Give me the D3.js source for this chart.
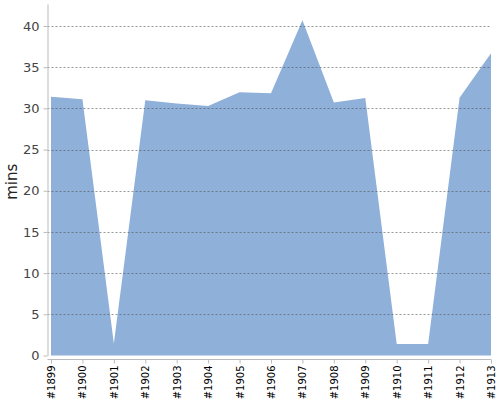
<!DOCTYPE html>
<html>
<head>
<meta charset="utf-8">
<script src="https://cdn.jsdelivr.net/npm/d3@7"></script>
<style>
  body { margin: 0; background: #fff; }
  svg { display: block; font-family: "DejaVu Sans", sans-serif; }
</style>
</head>
<body>
<div id="chart-container"></div>
<script>
"use strict";

const years = ["#1899", "#1900", "#1901", "#1902", "#1903", "#1904", "#1905", "#1906",
  "#1907", "#1908", "#1909", "#1910", "#1911", "#1912", "#1913"];
const mins = [31.4, 31.1, 1.45, 31.0, 30.6, 30.3, 31.95, 31.85,
  40.7, 30.7, 31.25, 1.4, 1.4, 31.3, 36.7];
const yTicks = [0, 5, 10, 15, 20, 25, 30, 35, 40];

const svgWidth = 500;
const svgHeight = 400;
const plotLeft = 51;
const plotRight = 491;
const plotTop = 4;
const plotBottom = 355.5;

const svg = d3.select("#chart-container")
  .append("svg")
  .attr("width", svgWidth)
  .attr("height", svgHeight)
;

const xScale = d3.scalePoint()
  .domain(years)
  .range([plotLeft, plotRight])
;
const yScale = d3.scaleLinear()
  .domain([0, 42.67])
  .range([plotBottom, plotTop])
;

// filled area
const area = d3.area()
  .x((d, i) => xScale(years[i]))
  .y0(yScale(0))
  .y1(d => yScale(d))
;
svg.append("path")
  .datum(mins)
  .attr("d", area)
  .attr("fill", "#8eb0d9")
;

// dotted grid lines, drawn over the area
svg.append("g")
  .selectAll("line")
  .data(yTicks.filter(t => t > 0))
  .enter()
  .append("line")
  .attr("x1", plotLeft - 3.5)
  .attr("x2", plotRight)
  .attr("y1", d => Math.round(yScale(d)) + 0.5)
  .attr("y2", d => Math.round(yScale(d)) + 0.5)
  .attr("stroke", "#555")
  .attr("stroke-opacity", 0.6)
  .attr("stroke-dasharray", "2,2")
;

// y axis
const yAxis = d3.axisLeft(yScale)
  .tickValues(yTicks)
  .tickSize(4)
  .tickSizeOuter(0)
  .tickPadding(4)
;
const yAxisG = svg.append("g")
  .attr("transform", "translate(47.5, 0)")
  .call(yAxis)
  .attr("font-family", "DejaVu Sans, sans-serif")
;
yAxisG.select(".domain").attr("stroke", "#bbb");
yAxisG.selectAll(".tick line").attr("stroke", "#bbb");
yAxisG.selectAll(".tick text")
  .attr("fill", "#444")
  .style("font-size", "13px")
;

// x axis
const xAxis = d3.axisBottom(xScale)
  .tickSize(4)
  .tickSizeOuter(0)
  .tickPadding(3)
;
const xAxisG = svg.append("g")
  .attr("transform", "translate(0, 359.5)")
  .call(xAxis)
  .attr("font-family", "DejaVu Sans, sans-serif")
;
xAxisG.select(".domain")
  .attr("d", `M47.5,0H${plotRight}`)
  .attr("stroke", "#bbb")
;
xAxisG.selectAll(".tick line").attr("stroke", "#bbb");
xAxisG.selectAll(".tick text")
  .attr("fill", "#000")
  .style("font-size", "10px")
  .attr("text-anchor", "end")
  .attr("transform", "rotate(-90)")
  .attr("x", -6)
  .attr("y", 0)
  .attr("dy", "0.35em")
;

// y axis title
svg.append("text")
  .attr("transform", `translate(17, ${(plotTop + plotBottom) / 2 + 2}) rotate(-90)`)
  .attr("text-anchor", "middle")
  .attr("fill", "#222")
  .style("font-size", "15px")
  .text("mins")
;
</script>
</body>
</html>
